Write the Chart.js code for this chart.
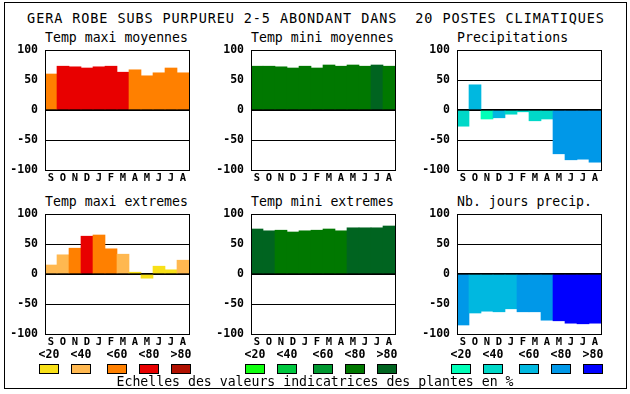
<!DOCTYPE html>
<html><head><meta charset="utf-8">
<script src="https://cdn.jsdelivr.net/npm/chart.js@4/dist/chart.umd.min.js"></script>
<style>
html,body{margin:0;padding:0;background:#fff;width:630px;height:394px;overflow:hidden;position:relative;}
#frame{position:absolute;left:4px;top:2px;width:623px;height:387px;border:1px solid #000;box-sizing:border-box;}
.t{position:absolute;font-family:"DejaVu Sans Mono",monospace;white-space:pre;color:#000;}
.b{position:absolute;border:1px solid #000;box-sizing:border-box;}
canvas{position:absolute;}
</style></head><body>
<div id="frame"></div>
<script>
// ---- data ----
const mainTitle = "GERA ROBE SUBS PURPUREU 2-5 ABONDANT DANS  20 POSTES CLIMATIQUES";
const months = ['S','O','N','D','J','F','M','A','M','J','J','A'];
const yTicks = [-100,-50,0,50,100];
const legendLabels = ['<20','<40','<60','<80','>80'];
const legendTitle = "Echelles des valeurs indicatrices des plantes en %";

const panelTitles = ['Temp maxi moyennes','Temp mini moyennes','Precipitations',
                     'Temp maxi extremes','Temp mini extremes','Nb. jours precip.'];

const tempMaxiMoy      = [60,73,72,70,72,73,63,67,57,62,70,62];
const tempMaxiMoyClass = [2,3,3,3,3,3,3,2,2,2,2,2];
const tempMiniMoy      = [73,73,72,70,73,70,75,73,75,73,75,73];
const tempMiniMoyClass = [3,3,3,3,3,3,3,3,3,3,4,3];
const precip           = [-27,42,-15,-13,-7,-3,-18,-15,-73,-83,-82,-87];
const precipClass      = [1,2,0,2,1,1,1,1,3,3,3,3];
const tempMaxiExt      = [15,32,43,63,65,42,33,3,-7,13,7,23];
const tempMaxiExtClass = [1,1,2,3,2,2,1,0,0,0,0,1];
const tempMiniExt      = [75,72,73,70,72,73,75,72,77,77,77,80];
const tempMiniExtClass = [4,4,3,3,3,3,3,3,4,4,4,4];
const nbJours          = [-85,-65,-62,-63,-58,-63,-63,-77,-78,-82,-83,-82];
const nbJoursClass     = [3,2,2,2,2,3,3,3,4,4,4,4];

const warmPalette  = ['#F8E018','#FFB850','#FF8000','#E80000','#B01000'];
const greenPalette = ['#10FF10','#00C840','#009830','#007800','#006420'];
const bluePalette  = ['#00FFB8','#00D8C8','#00B8E0','#0098E8','#0000FF'];

// ---- layout ----
const colLeft = [45,251,457];     // chart area left
const rowTop  = [50,214];         // chart area top
const PLOT_W = 144, PLOT_H = 120, YAX_W = 45, XAX_H = 18, PAD_T = 16, PAD_R = 4;

function addText(txt, left, cy, size, weight, extra){
  const d=document.createElement('div');
  d.className='t'; d.textContent=txt;
  const lh=Math.round(size*1.2);
  d.style.fontSize=size+'px'; d.style.lineHeight=lh+'px';
  d.style.fontWeight=weight||'normal';
  d.style.top=(cy-lh/2)+'px';
  if(left!==null) d.style.left=left+'px';
  if(extra) Object.assign(d.style,extra);
  document.body.appendChild(d);
  return d;
}

const frameBox={id:'frameBox',afterDraw(chart){
  const {ctx,chartArea:a}=chart;
  ctx.save();ctx.strokeStyle='#000';ctx.lineWidth=1;
  ctx.strokeRect(Math.round(a.left)+0.5,Math.round(a.top)+0.5,Math.round(a.right-a.left),Math.round(a.bottom-a.top));
  ctx.restore();
}};

const yFont={family:'"DejaVu Sans Mono", monospace',size:11.5,weight:'bold',lineHeight:1};
const xFont={family:'"DejaVu Sans Mono", monospace',size:10.5,weight:'bold',lineHeight:1};

function makeChart(col,row,values,classes,palette){
  const cv=document.createElement('canvas');
  let w=YAX_W+PLOT_W+PAD_R, h=PAD_T+PLOT_H+XAX_H;
  cv.width=w; cv.height=h;
  cv.style.width=w+'px'; cv.style.height=h+'px';
  cv.style.left=(colLeft[col]-YAX_W)+'px'; cv.style.top=(rowTop[row]-PAD_T)+'px';
  document.body.appendChild(cv);
  const chart=new Chart(cv,{
    type:'bar',
    data:{labels:months,datasets:[{data:values,backgroundColor:classes.map(c=>palette[c]),
      borderWidth:0,barPercentage:1,categoryPercentage:1}]},
    options:{
      responsive:false,animation:false,devicePixelRatio:1,
      layout:{padding:{top:PAD_T,right:PAD_R,left:0,bottom:0}},
      plugins:{legend:{display:false},tooltip:{enabled:false}},
      scales:{
        x:{grid:{display:false,drawTicks:false},border:{display:false},
           ticks:{font:xFont,color:'#000',padding:3,maxRotation:0,minRotation:0,autoSkip:false},
           afterFit(s){s.height=XAX_H;}},
        y:{min:-100,max:100,z:1,
           afterBuildTicks(s){s.ticks=yTicks.map(v=>({value:v}));},
           ticks:{font:yFont,color:'#000',padding:7},
           grid:{color:'#000',lineWidth:c=>(c.tick&&c.tick.value===0)?2:1,drawTicks:false},
           border:{display:false},
           afterFit(s){s.width=YAX_W;}}
      }
    },
    plugins:[frameBox]
  });
  for(let i=0;i<3;i++){
    const a=chart.chartArea;
    const dh=PLOT_H-(a.bottom-a.top), dw=PLOT_W-(a.right-a.left);
    if(Math.abs(dh)<0.01 && Math.abs(dw)<0.01) break;
    w+=dw; h+=dh; chart.resize(w,h);
  }
  const a=chart.chartArea;
  cv.style.left=(colLeft[col]-a.left)+'px';
  cv.style.top=(rowTop[row]-a.top)+'px';
}

// title
addText(mainTitle,null,18,13.5,'normal',{left:'0px',width:'632px',textAlign:'center',letterSpacing:'0.9px'});

// panels
const panels=[
  [0,0,tempMaxiMoy,tempMaxiMoyClass,warmPalette],
  [1,0,tempMiniMoy,tempMiniMoyClass,greenPalette],
  [2,0,precip,precipClass,bluePalette],
  [0,1,tempMaxiExt,tempMaxiExtClass,warmPalette],
  [1,1,tempMiniExt,tempMiniExtClass,greenPalette],
  [2,1,nbJours,nbJoursClass,bluePalette]
];
panels.forEach((p,i)=>{
  addText(panelTitles[i],colLeft[p[0]],rowTop[p[1]]-12,13.2,'normal');
  makeChart(...p);
});

// legends
const boxOffsets=[-6,26,62,94,126];
const palettes=[warmPalette,greenPalette,bluePalette];
palettes.forEach((pal,g)=>{
  pal.forEach((c,k)=>{
    const x=colLeft[g]+boxOffsets[k];
    const d=document.createElement('div');d.className='b';
    d.style.left=x+'px';d.style.top='364px';d.style.width='20px';d.style.height='10px';d.style.background=c;
    document.body.appendChild(d);
    addText(legendLabels[k],x-10,354,11.5,'bold',{width:'40px',textAlign:'center'});
  });
});
addText(legendTitle,null,382,13.2,'normal',{left:'0px',width:'630px',textAlign:'center'});
</script>
</body></html>
